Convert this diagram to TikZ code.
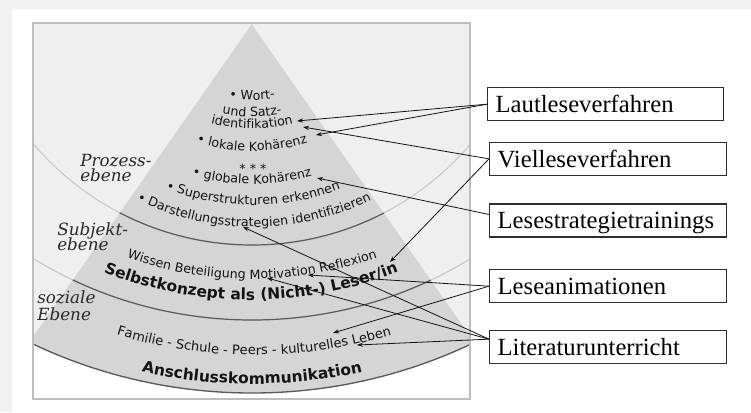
\documentclass[tikz,border=0pt]{standalone}
\usepackage{fontspec}
\setmainfont{Liberation Serif}
\newfontfamily\pyrfamily{DejaVu Sans}
\newfontfamily\labfamily{DejaVu Serif}
\usetikzlibrary{decorations.text,arrows.meta,calc}
\definecolor{bgout}{HTML}{F0F0F0}
\definecolor{boxfill}{HTML}{EFEFEF}
\definecolor{boxedge}{HTML}{BDBDBD}
\definecolor{tri}{HTML}{D5D5D5}
\definecolor{arclight}{HTML}{C8C8C8}
\definecolor{arcdark}{HTML}{5A5A5A}
\definecolor{ink}{HTML}{141414}
\definecolor{labink}{HTML}{2A2A2A}
\definecolor{boxline}{HTML}{2E2E2E}
\newcommand\pyrR{\pyrfamily\fontsize{9.5}{11}\selectfont}
\newcommand\pyrF{\pyrfamily\fontsize{9.8}{11}\selectfont}
\newcommand\pyrB{\pyrfamily\bfseries\fontsize{11.6}{13}\selectfont}
\newcommand\labF{\labfamily\itshape\fontsize{12.6}{12}\selectfont}
\newcommand\txtarc[4]{%
  \path[arctext={#4}] ([shift={(#1,#2)}]135:#3) arc[start angle=135, end angle=45, radius=#3];}
\tikzset{
  arctext/.style={decorate, decoration={text along path, text align=center, text color=ink, text={#1}}},
  lab/.style={font=\labF, text=labink, inner sep=0pt, anchor=base west},
  rbox/.style={draw=boxline, line width=1pt, fill=white, font=\fontsize{18.5}{20}\selectfont,
    minimum height=24.75pt, align=left, inner xsep=6pt, inner ysep=0pt,
    text height=12.6pt, text depth=0pt, anchor=north west},
  conn/.style={draw=ink, line width=0.6pt, -{Stealth[length=4.5pt,width=3.2pt]}},
}
\begin{document}
\begin{tikzpicture}[x=0.75pt, y=-0.75pt]
\useasboundingbox (0,0) rectangle (751,412);
% backgrounds
\fill[bgout] (0,0) rectangle (751,412);
\fill[white] (12,9) rectangle (751,412);
\fill[boxfill] (33,23) rectangle (470,399);
\begin{scope}
  \clip (33,23) rectangle (470,399);
  \fill[white, even odd rule] (0,-700) rectangle (751,450) (252,-120) circle[radius=513];
  \begin{scope}
    \clip (252,-120) circle[radius=513];
    \fill[tri] (251.7,24.3) -- (-28,424) -- (531.4,424) -- cycle;
  \end{scope}
  \draw[arclight, line width=0.8pt] (252,-42) circle[radius=287];
  \draw[arclight, line width=0.8pt] (252,-100) circle[radius=420];
  \begin{scope}
    \clip (251.7,24.3) -- (-28,424) -- (531.4,424) -- cycle;
    \draw[arcdark, line width=0.9pt] (252,-42) circle[radius=287];
    \draw[arcdark, line width=0.9pt] (252,-100) circle[radius=420];
  \end{scope}
  \draw[arcdark, line width=1pt] (252,-120) circle[radius=513];
\end{scope}
\draw[boxedge, line width=1.1pt] (33,23) rectangle (470,399);
% process level texts
\txtarc{252}{-42}{142}{|\pyrR|• Wort-}
\txtarc{252}{-42}{158.7}{|\pyrR|und Satz-}
\txtarc{252}{-42}{170.5}{|\pyrR|identifikation}
\txtarc{252}{-42}{193}{|\pyrR|• lokale Kohärenz}
\node[font=\pyrR, text=ink, inner sep=0pt, anchor=base] (stars) at (253,173.5) {* * *};
\txtarc{252}{-42}{226}{|\pyrR|• globale Kohärenz}
\txtarc{253}{-42}{247}{|\pyrR|• Superstrukturen erkennen}
\txtarc{254}{-42}{269}{|\pyrR|• Darstellungsstrategien identifizieren}
% subject level
\txtarc{252}{-100}{379}{|\pyrR|Wissen Beteiligung Motivation Reflexion}
\txtarc{251}{-100}{400}{|\pyrB|Selbstkonzept als (Nicht-) Leser/in}
% social level
\txtarc{254}{-120}{475}{|\pyrF|Familie - Schule - Peers - kulturelles Leben}
\txtarc{252}{-120}{504}{|\pyrB|Anschlusskommunikation}
% level labels
\node[lab] (proz1) at (80,166) {Prozess-};
\node[lab] (proz2) at (80,181.5) {ebene};
\node[lab] (subj1) at (57,235) {Subjekt-};
\node[lab] (subj2) at (57,250) {ebene};
\node[lab] (soz1) at (37,303) {soziale};
\node[lab] (soz2) at (37,320) {Ebene};
% right boxes
\node[rbox, text width=165pt] (laut) at (487,87) {Lautleseverfahren};
\node[rbox, text width=165.75pt] (viel) at (489,141.7) {Vielleseverfahren};
\node[rbox, text width=165.75pt] (lstr) at (489,203.3) {Lesestrategietrainings};
\node[rbox, text width=165.75pt] (anim) at (489,269) {Leseanimationen};
\node[rbox, text width=165.75pt] (lit) at (489,330) {Literaturunterricht};
% arrow targets
\coordinate (t1) at (297,121);
\coordinate (t2) at (316,135);
\coordinate (t3) at (303,127);
\coordinate (t4) at (390,262);
\coordinate (t5) at (317,178);
\coordinate (t6) at (308,275);
\coordinate (t7) at (333,333);
\coordinate (t8) at (243,227);
\coordinate (t9) at (267,278);
\coordinate (t10) at (357,345);
% connectors
\draw[conn] (laut.west) -- (t1);
\draw[conn] (laut.west) -- (t2);
\draw[conn] (viel.west) -- (t3);
\draw[conn] (viel.west) -- (t4);
\draw[conn] ([yshift=4.5pt]lstr.west) -- (t5);
\draw[conn] (anim.west) -- (t6);
\draw[conn] (anim.west) -- (t7);
\draw[conn] ([yshift=6pt]lit.west) -- (t8);
\draw[conn] ([yshift=6pt]lit.west) -- (t9);
\draw[conn] ([yshift=6pt]lit.west) -- (t10);
\end{tikzpicture}
\end{document}
